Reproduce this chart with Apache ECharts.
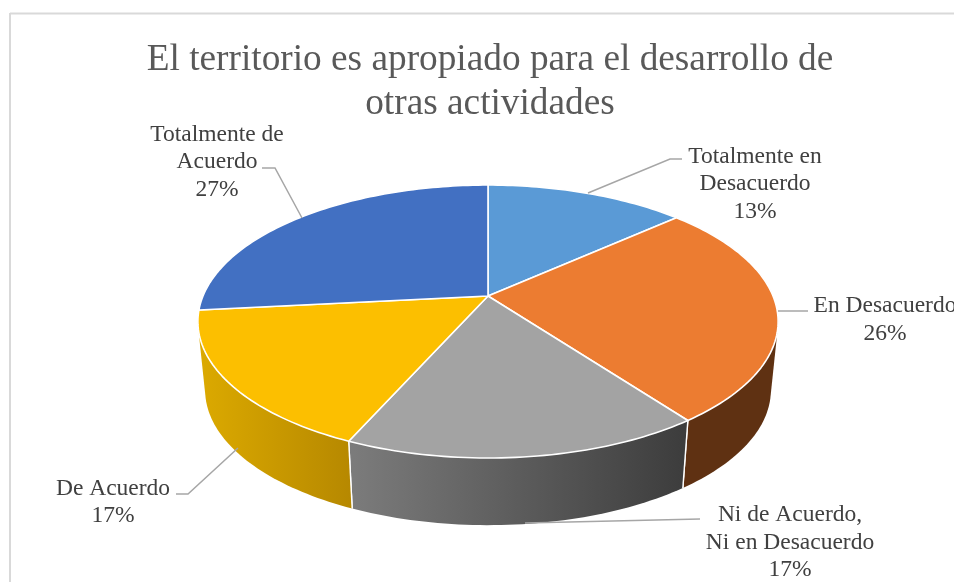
<!DOCTYPE html>
<html>
<head>
<meta charset="utf-8">
<style>html,body{margin:0;padding:0;background:#fff}#c{width:954px;height:582px}</style>
<script src="https://cdn.jsdelivr.net/npm/echarts@6/dist/echarts.min.js"></script>
</head>
<body>
<div id="c"></div>
<script>
// DATA
const titleText = 'El territorio es apropiado para el desarrollo de\notras actividades';
const categories = ['Totalmente en\nDesacuerdo', 'En Desacuerdo', 'Ni de Acuerdo,\nNi en Desacuerdo', 'De Acuerdo', 'Totalmente de\nAcuerdo'];
const values = [13.35, 26.49, 16.8, 16.7, 26.66];

// STYLE
const topColors = ['#5A9AD6', '#EC7C31', '#A3A3A3', '#FCBF00', '#4270C2'];
const wallColors = [null, ['#5f3112', '#5f3112'], ['#7c7c7c', '#3c3c3c'], ['#dcaa00', '#b68800'], null];

// LAYOUT
const labelCenters = [[755, 156.5], [885, 306], [790, 515], [113, 488.5], [217, 134.5]];
const leaderLines = [
  [[588, 193], [670, 159], [682, 159]],
  [[778, 311], [808, 311]],
  [[525, 523], [700, 519]],
  [[238, 448], [188, 494], [176, 494]],
  [[302, 218], [275, 168], [262, 168]]
];
const cx = 488, cy = 296, A = 285, B = 131.7, K = 0.187;
const ellipseCy = 321.5, wallCy = 390, wallSx = 0.975, wallSy = 0.99;
const labelFont = '23.5px "Liberation Serif"', lineH = 27.5;

function project(pct, lower) {
  const t = pct / 100 * Math.PI * 2, u = Math.sin(t), v = -Math.cos(t), w = 1 - K * v;
  const x = A * u / w, y = cy + B * v / w;
  return lower ? [cx + x * wallSx, wallCy + wallSy * (y - ellipseCy)] : [cx + x, y];
}
function arc(a, b, lower) {
  const pts = [], n = Math.max(2, Math.ceil((b - a) * 3));
  for (let i = 0; i <= n; i++) pts.push(project(a + (b - a) * i / n, lower));
  return pts;
}
function hull(points) {
  const p = points.slice().sort((m, n) => m[0] - n[0] || m[1] - n[1]);
  const cross = (o, a, b) => (a[0] - o[0]) * (b[1] - o[1]) - (a[1] - o[1]) * (b[0] - o[0]);
  const build = list => {
    const h = [];
    list.forEach(q => {
      while (h.length >= 2 && cross(h[h.length - 2], h[h.length - 1], q) <= 0) h.pop();
      h.push(q);
    });
    h.pop();
    return h;
  };
  return build(p).concat(build(p.slice().reverse()));
}
const ranges = [];
values.reduce((s, v) => { ranges.push([s, s + v]); return s + v; }, 0);
const seriesData = ranges.map((r, i) => ({ value: [r[0], r[1], values[i]] }));
const isFront = p => Math.cos(p / 100 * Math.PI * 2) < -0.3;

function renderWall(params, api) {
  const i = params.dataIndex, a = api.value(0), b = api.value(1);
  if (!wallColors[i]) return null;
  const pts = hull(arc(a, b, false).concat(arc(a, b, true)));
  const children = [{
    type: 'polygon', shape: { points: pts },
    style: { fill: new echarts.graphic.LinearGradient(0, 0, 1, 0, [
      { offset: 0, color: wallColors[i][0] }, { offset: 1, color: wallColors[i][1] }]) }
  }];
  [a, b].forEach(p => {
    if (isFront(p)) children.push({ type: 'line',
      shape: { x1: project(p, false)[0], y1: project(p, false)[1], x2: project(p, true)[0], y2: project(p, true)[1] },
      style: { stroke: '#fff', lineWidth: 1.4 } });
  });
  return { type: 'group', children };
}
function renderTop(params, api) {
  const i = params.dataIndex, a = api.value(0), b = api.value(1);
  const pts = [[cx, cy]].concat(arc(a, b, false));
  return { type: 'polygon', shape: { points: pts },
    style: { fill: topColors[i], stroke: '#fff', lineWidth: 1.6, lineJoin: 'round' } };
}
function renderLabel(params, api) {
  const i = params.dataIndex;
  const lines = (categories[i] + '\n' + Math.round(api.value(2)) + '%').split('\n');
  const children = [{ type: 'polyline', shape: { points: leaderLines[i] },
    style: { fill: 'none', stroke: '#a6a6a6', lineWidth: 1.5 } }];
  lines.forEach((l, k) => children.push({ type: 'text',
    style: { text: l, x: labelCenters[i][0], y: labelCenters[i][1] + k * lineH,
      font: labelFont, fill: '#404040', textAlign: 'center', textVerticalAlign: 'middle' } }));
  return { type: 'group', children };
}
const chart = echarts.init(document.getElementById('c'), null, { renderer: 'canvas' });
chart.setOption({
  animation: false,
  backgroundColor: '#fff',
  title: { text: titleText, left: 485, top: 33, textAlign: 'center',
    textStyle: { fontFamily: 'Liberation Serif', fontSize: 37.3, fontWeight: 'normal', color: '#595959', lineHeight: 44 } },
  graphic: [
    { type: 'line', shape: { x1: 10, y1: 13.5, x2: 954, y2: 13.5 }, style: { stroke: '#d9d9d9', lineWidth: 2 } },
    { type: 'line', shape: { x1: 10, y1: 13, x2: 10, y2: 582 }, style: { stroke: '#d9d9d9', lineWidth: 2 } }
  ],
  series: [
    { type: 'custom', coordinateSystem: 'none', renderItem: renderWall, data: seriesData, z: 2, silent: true },
    { type: 'custom', coordinateSystem: 'none', renderItem: renderTop, data: seriesData, z: 3, silent: true },
    { type: 'custom', coordinateSystem: 'none', renderItem: renderLabel, data: seriesData, z: 4, silent: true }
  ]
});
</script>
</body>
</html>
